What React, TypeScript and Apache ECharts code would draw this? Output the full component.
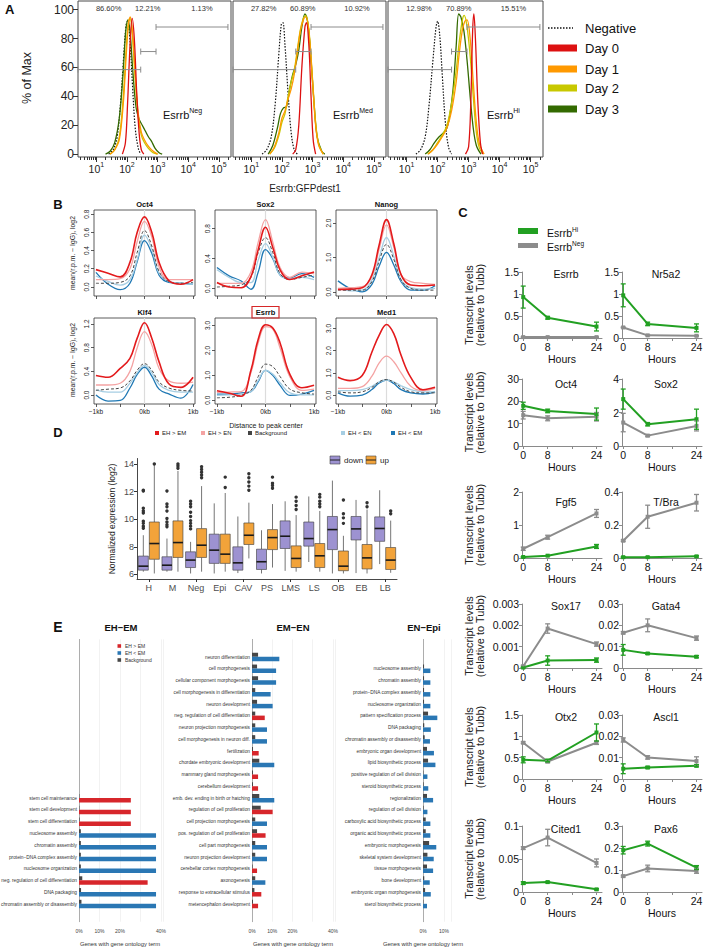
import React, { useEffect, useRef } from 'react';
import * as echarts from 'echarts';

const FF = '"Liberation Sans", Arial, Helvetica, sans-serif';

/* ================= Panel A : flow histograms (x = log10 intensity, y = % of max) ================= */
const A_GROUPS = ['Neg', 'Med', 'Hi'];
const A_PERCENTS = [
  ['86.60%', '12.21%', '1.13%'],
  ['27.82%', '60.89%', '10.92%'],
  ['12.98%', '70.89%', '15.51%'],
];
const A_PERCENT_AT = [1.4, 2.68, 4.45];
const A_GATES = [[0.4, 2.45, 58.5], [2.45, 2.95, 71], [2.95, 5.3, 88]];
const A_DECADES = [1, 2, 3, 4, 5];
const A_YTICKS = [0, 20, 40, 60, 80, 100];
const A_LEGEND = ['Negative', 'Day 0', 'Day 1', 'Day 2', 'Day 3'];
const A_NEGATIVE = [
  [[1.4, 0], [1.55, 3], [1.68, 12], [1.8, 38], [1.9, 70], [1.97, 89], [2.02, 92], [2.1, 78], [2.18, 48], [2.27, 18], [2.37, 4], [2.45, 0]],
  [[1.35, 0], [1.5, 3], [1.65, 12], [1.78, 35], [1.9, 70], [1.98, 90], [2.03, 91], [2.1, 75], [2.2, 42], [2.3, 15], [2.4, 3], [2.5, 0]],
  [[1.3, 0], [1.45, 3], [1.6, 12], [1.72, 33], [1.85, 65], [1.95, 88], [2.0, 92], [2.07, 82], [2.15, 55], [2.25, 22], [2.35, 5], [2.45, 0]],
];
const A_DAY0 = [
  [[1.85, 0], [1.95, 8], [2.02, 35], [2.1, 75], [2.17, 94], [2.24, 80], [2.32, 42], [2.4, 14], [2.47, 3], [2.55, 0]],
  [[2.35, 0], [2.45, 3], [2.55, 20], [2.65, 60], [2.75, 88], [2.8, 91], [2.88, 75], [2.95, 40], [3.02, 10], [3.1, 0]],
  [[2.9, 0], [3.0, 5], [3.07, 35], [3.13, 85], [3.17, 97], [3.22, 80], [3.3, 35], [3.38, 8], [3.45, 0]],
];
const A_DAY1 = [
  [[1.45, 0], [1.6, 3], [1.75, 10], [1.88, 35], [1.98, 70], [2.05, 90], [2.11, 95], [2.18, 85], [2.27, 55], [2.37, 28], [2.47, 15], [2.57, 10], [2.68, 6], [2.8, 3], [3.0, 0]],
  [[1.6, 0], [1.75, 5], [1.9, 15], [2.0, 25], [2.1, 30], [2.2, 38], [2.3, 45], [2.4, 55], [2.5, 70], [2.6, 85], [2.7, 93], [2.78, 95], [2.88, 85], [3.0, 50], [3.1, 20], [3.2, 6], [3.35, 0]],
  [[1.7, 0], [1.85, 3], [2.0, 7], [2.15, 12], [2.3, 18], [2.45, 30], [2.6, 50], [2.7, 70], [2.8, 86], [2.88, 92], [2.95, 93], [3.05, 80], [3.15, 50], [3.25, 22], [3.35, 7], [3.5, 0]],
];
const A_DAY2 = [
  [[1.45, 0], [1.6, 3], [1.75, 12], [1.88, 40], [1.98, 75], [2.05, 92], [2.1, 94], [2.17, 84], [2.27, 52], [2.37, 25], [2.47, 13], [2.57, 8], [2.7, 4], [2.85, 1], [3.0, 0]],
  [[1.6, 0], [1.75, 4], [1.9, 13], [2.0, 22], [2.1, 28], [2.2, 40], [2.3, 50], [2.4, 58], [2.5, 72], [2.6, 86], [2.7, 94], [2.78, 96], [2.88, 86], [3.0, 52], [3.1, 22], [3.2, 7], [3.35, 0]],
  [[1.68, 0], [1.85, 3], [2.0, 8], [2.15, 13], [2.3, 20], [2.45, 35], [2.6, 58], [2.7, 78], [2.8, 93], [2.86, 96], [2.95, 88], [3.05, 68], [3.15, 40], [3.25, 15], [3.35, 4], [3.48, 0]],
];
const A_DAY3 = [
  [[1.3, 0], [1.45, 2], [1.6, 8], [1.75, 25], [1.87, 55], [1.96, 85], [2.03, 93], [2.1, 85], [2.2, 55], [2.3, 32], [2.4, 24], [2.5, 20], [2.6, 16], [2.7, 12], [2.8, 9], [2.92, 4], [3.05, 1], [3.15, 0]],
  [[1.55, 0], [1.7, 6], [1.85, 18], [1.95, 28], [2.05, 32], [2.15, 33], [2.25, 45], [2.35, 55], [2.45, 62], [2.55, 72], [2.65, 88], [2.75, 97], [2.85, 90], [2.95, 65], [3.05, 35], [3.15, 12], [3.3, 2], [3.4, 0]],
  [[1.6, 0], [1.75, 3], [1.9, 8], [2.05, 12], [2.2, 15], [2.3, 18], [2.4, 28], [2.5, 45], [2.6, 75], [2.68, 97], [2.75, 95], [2.85, 85], [2.95, 65], [3.05, 40], [3.15, 18], [3.25, 6], [3.4, 0]],
];

/* ================= Panel B : ChIP profiles ================= */
const B_NAMES = ['Oct4', 'Sox2', 'Nanog', 'Klf4', 'Esrrb', 'Med1'];
const B_X = [-1000, -750, -500, -300, -150, 0, 150, 300, 500, 750, 1000];
const B_YMIN = [-0.1, -0.1, -0.12, -0.15, -0.15, -0.4];
const B_YMAX = [0.846, 1.05, 2.38, 1.3, 3.3, 3.47];
const B_YTICKS = [[0, 0.2, 0.4, 0.6, 0.8], [0, 0.4, 0.8], [0, 1, 2], [0, 0.4, 0.8, 1.2], [0, 1, 2, 3], [0, 1, 2, 3]];
const B_LEGEND = ['EH > EM', 'EH > EN', 'Background', 'EH < EN', 'EH < EM'];
const B_EH_GT_EM = [
  [0.19, 0.15, 0.11, 0.27, 0.6, 0.77, 0.6, 0.27, 0.07, 0.03, 0.08],
  [0.08, 0.02, 0.01, 0.16, 0.52, 0.82, 0.55, 0.25, 0.12, 0.17, 0.22],
  [0.07, 0.08, 0.12, 0.5, 1.37, 2.1, 1.4, 0.5, 0.2, 0.18, 0.2],
  [0.33, 0.3, 0.45, 0.62, 0.96, 1.22, 0.96, 0.56, 0.19, 0.13, 0.3],
  [0.38, 0.28, 0.16, 1.2, 2.45, 3.03, 2.9, 2.3, 1.05, 0.5, 0.6],
  [0.8, 0.65, 0.88, 1.94, 2.7, 3.18, 2.77, 1.79, 0.8, 0.24, 0.35],
];
const B_EH_GT_EN = [
  [0.08, 0.08, 0.09, 0.2, 0.5, 0.72, 0.55, 0.22, 0.08, 0.08, 0.08],
  [0.07, 0.07, 0.07, 0.22, 0.62, 0.92, 0.62, 0.28, 0.15, 0.22, 0.2],
  [0.1, 0.12, 0.15, 0.45, 1.25, 1.95, 1.3, 0.5, 0.3, 0.25, 0.22],
  [0.17, 0.17, 0.2, 0.4, 0.8, 1.07, 0.85, 0.45, 0.24, 0.2, 0.22],
  [0.32, 0.33, 0.35, 1.1, 2.3, 2.95, 2.85, 2.1, 0.95, 0.4, 0.45],
  [0.3, 0.3, 0.38, 0.85, 1.45, 1.75, 1.5, 1.0, 0.4, 0.2, 0.3],
];
const B_BACKGROUND = [
  [0.04, 0.04, 0.05, 0.12, 0.38, 0.62, 0.45, 0.17, 0.06, 0.04, 0.05],
  [0.02, 0.03, 0.05, 0.15, 0.48, 0.68, 0.48, 0.2, 0.12, 0.15, 0.18],
  [0.05, 0.05, 0.05, 0.3, 0.9, 1.38, 0.95, 0.35, 0.1, 0.05, 0.05],
  [0.08, 0.1, 0.12, 0.24, 0.42, 0.53, 0.42, 0.22, 0.12, 0.08, 0.07],
  [0.1, 0.12, 0.2, 0.4, 0.95, 1.45, 1.35, 0.95, 0.45, 0.3, 0.25],
  [0.15, 0.1, 0.15, 0.35, 0.6, 0.7, 0.58, 0.35, 0.15, 0.1, 0.1],
];
const B_EH_LT_EN = [
  [0.12, 0.06, 0.02, 0.08, 0.3, 0.57, 0.42, 0.15, 0.06, 0.04, 0.03],
  [0.25, 0.15, 0.08, 0.08, 0.38, 0.6, 0.42, 0.18, 0.13, 0.15, 0.12],
  [0.1, 0.03, 0.05, 0.35, 1.0, 1.58, 1.05, 0.35, 0.12, 0.08, 0.1],
  [0.09, 0.05, 0.05, 0.2, 0.38, 0.5, 0.38, 0.18, 0.08, 0.05, 0.05],
  [0.2, 0.22, 0.25, 0.35, 0.8, 1.2, 1.05, 0.7, 0.3, 0.22, 0.22],
  [0.2, 0.2, 0.25, 0.4, 0.6, 0.68, 0.6, 0.42, 0.25, 0.15, 0.15],
];
const B_EH_LT_EM = [
  [0.16, 0.03, -0.03, 0.04, 0.28, 0.51, 0.37, 0.13, 0.05, 0.04, 0.03],
  [0.28, 0.17, 0.1, -0.01, 0.22, 0.52, 0.4, 0.18, 0.14, 0.2, 0.15],
  [0.32, 0.1, 0.0, 0.22, 0.75, 1.15, 0.78, 0.3, 0.05, 0.05, 0.18],
  [0.0, -0.1, -0.09, 0.12, 0.35, 0.47, 0.32, 0.1, 0.02, -0.05, 0.18],
  [0.25, 0.25, 0.3, 0.35, 0.75, 1.2, 1.0, 0.6, 0.2, 0.25, 0.4],
  [0.1, -0.05, 0.0, 0.25, 0.55, 0.68, 0.52, 0.25, 0.1, 0.05, 0.15],
];

/* ================= Panel C : qPCR time courses ================= */
const C_GENES = ['Esrrb', 'Nr5a2', 'Oct4', 'Sox2', 'Fgf5', 'T/Bra', 'Sox17', 'Gata4', 'Otx2', 'Ascl1', 'Cited1', 'Pax6'];
const C_HOURS = [0, 8, 24];
const C_XLABELS = [0, 8, 24];
const C_XTICKS = [0, 8, 16, 24];
const C_YMAX = [1.5, 1.5, 30, 4, 2, 0.4, 0.003, 0.03, 1.5, 0.03, 0.1, 0.3];
const C_YSTEP = [0.5, 0.5, 10, 2, 1, 0.2, 0.001, 0.01, 0.5, 0.01, 0.05, 0.1];
const C_HI_MEAN = [
  [0.93, 0.46, 0.26], [0.97, 0.32, 0.23], [18, 15.7, 14.3], [2.8, 1.3, 1.6],
  [0.03, 0.07, 0.35], [0.005, 0.005, 0.01], [0.00002, 0.00035, 0.00037], [0.0085, 0.0068, 0.0053],
  [0.45, 0.43, 1.09], [0.0048, 0.0054, 0.0062], [0.0135, 0.015, 0.004], [0.19, 0.22, 0.111],
];
const C_HI_ERR = [
  [0.25, 0.03, 0.1], [0.26, 0.04, 0.09], [1.6, 0.8, 2.7], [0.6, 0.1, 0.6],
  [0.01, 0.01, 0.06], [0.003, 0.002, 0.004], [0.00002, 0.00022, 0.0001], [0.0025, 0.0004, 0.0005],
  [0.07, 0.03, 0.2], [0.0023, 0.0005, 0.0005], [0.002, 0.001, 0.001], [0.017, 0.011, 0.009],
];
const C_NEG_MEAN = [
  [0.02, 0.02, 0.02], [0.24, 0.06, 0.05], [13.8, 12.4, 13.1], [1.4, 0.62, 1.2],
  [0.28, 0.63, 1.35], [0.105, 0.25, 0.335], [0.00008, 0.00185, 0.00112], [0.0165, 0.02, 0.014],
  [0.85, 0.41, 0.85], [0.0183, 0.0101, 0.0084], [0.0665, 0.0825, 0.044], [0.072, 0.107, 0.096],
];
const C_NEG_ERR = [
  [0.01, 0.005, 0.005], [0.01, 0.01, 0.01], [1.7, 1.1, 1.9], [0.55, 0.06, 0.3],
  [0.05, 0.06, 0.12], [0.005, 0.07, 0.05], [0.00005, 0.00022, 0.0001], [0.0005, 0.003, 0.001],
  [0.02, 0.03, 0.04], [0.001, 0.0008, 0.002], [0.002, 0.0125, 0.006], [0.004, 0.015, 0.011],
];

/* ================= Panel D : boxplots [low, q1, median, q3, high] ================= */
const D_CATS = ['H', 'M', 'Neg', 'Epi', 'CAV', 'PS', 'LMS', 'LS', 'OB', 'EB', 'LB'];
const D_DOWN = [
  [6.2, 6.31, 6.6, 7.33, 8.84], [6.2, 6.31, 6.67, 7.28, 8.6], [6.07, 6.5, 7.04, 7.64, 8.36],
  [6.07, 6.8, 7.76, 8.92, 11.15], [6.1, 6.31, 6.84, 8.0, 10.2], [6.07, 6.36, 6.92, 7.83, 9.2],
  [6.26, 7.88, 8.77, 9.88, 11.3], [6.9, 8.05, 8.6, 9.8, 11.65], [6.07, 7.8, 9.25, 10.2, 12.8],
  [6.1, 8.5, 9.3, 10.2, 11.4], [6.75, 8.4, 9.33, 10.17, 12.1],
];
const D_UP = [
  [6.07, 7.1, 8.24, 9.8, 13.9], [6.2, 7.23, 8.31, 9.88, 13.5], [6.2, 7.23, 8.12, 9.32, 12.4],
  [6.2, 6.8, 7.47, 8.92, 11.9], [7.16, 8.17, 8.84, 9.73, 11.2], [6.5, 7.8, 8.67, 9.25, 11.1],
  [6.2, 6.5, 7.16, 8.07, 10.3], [6.2, 6.5, 7.35, 8.24, 10.6], [6.07, 6.27, 6.6, 7.7, 8.8],
  [6.07, 6.4, 7.2, 8.17, 10.7], [6.12, 6.36, 7.04, 7.95, 9.9],
];
const D_DOWN_OUT = [
  [12.1, 12.05, 10.8, 10.6, 10.45, 9.85, 9.7, 9.5, 9.35],
  [12.05, 11.1, 10.9, 10.6, 10.05, 9.8, 9.6, 9.45],
  [11.3, 11.1, 10.9, 10.5, 10.2, 9.9, 9.7, 9.5, 9.3],
  [], [], [], [], [], [], [], [],
];
const D_UP_OUT = [
  [14.0], [14.0, 13.85, 13.7], [13.0, 13.2, 13.4, 13.6, 13.8], [12.3, 13.05], [12.1, 12.4, 12.7, 13.0, 13.3],
  [12.25, 12.45, 12.6, 13.05], [10.7, 11.0, 11.3, 11.6], [10.9, 11.1, 11.3, 11.6, 11.8], [9.7, 10.1, 10.4, 11.4],
  [10.9, 11.2], [10.4, 10.6],
];
const D_YTICKS = [6, 8, 10, 12, 14];

/* ================= Panel E : GO term bars (% of genes) ================= */
const E_TITLES = ['EH−EM', 'EM−EN', 'EN−Epi'];
const E1_TERMS = ['stem cell maintenance', 'stem cell development', 'stem cell differentiation', 'nucleosome assembly', 'chromatin assembly', 'protein−DNA complex assembly', 'nucleosome organization', 'neg. regulation of cell differentiation', 'DNA packaging', 'chromatin assembly or disassembly'];
const E1_PCT = [25.3, 25.3, 25.3, 37.6, 37.6, 37.6, 37.6, 33.5, 37.6, 37.6];
const E1_BG = [0.2, 0.2, 0.3, 0.9, 0.9, 0.9, 0.9, 1.6, 1.0, 1.2];
const E1_UP = [1, 1, 1, 0, 0, 0, 0, 1, 0, 0];
const E2_TERMS = ['neuron differentiation', 'cell morphogenesis', 'cellular component morphogenesis', 'cell morphogenesis in differentiation', 'neuron development', 'neg. regulation of cell differentiation', 'neuron projection morphogenesis', 'cell morphogenesis in neuron diff.', 'fertilization', 'chordate embryonic development', 'mammary gland morphogenesis', 'cerebellum development', 'emb. dev. ending in birth or hatching', 'regulation of cell proliferation', 'cell projection morphogenesis', 'pos. regulation of cell proliferation', 'cell part morphogenesis', 'neuron projection development', 'cerebellar cortex morphogenesis', 'axonogenesis', 'response to extracellular stimulus', 'metencephalon development'];
const E2_PCT = [13.5, 11.9, 11.9, 9.2, 10.2, 6.3, 7.4, 7.4, 3.3, 11.0, 3.0, 3.0, 11.0, 10.2, 7.4, 6.7, 7.4, 7.4, 2.5, 6.6, 4.6, 3.0];
const E2_BG = [3.0, 2.5, 3.0, 1.6, 2.5, 1.6, 1.6, 1.6, 0.5, 3.6, 0.5, 0.5, 3.6, 4.3, 1.6, 2.5, 1.6, 1.6, 0.3, 1.6, 1.2, 0.5];
const E2_UP = [0, 0, 0, 0, 0, 1, 0, 0, 1, 0, 1, 1, 0, 1, 0, 1, 0, 0, 1, 0, 1, 1];
const E3_TERMS = ['nucleosome assembly', 'chromatin assembly', 'protein−DNA complex assembly', 'nucleosome organization', 'pattern specification process', 'DNA packaging', 'chromatin assembly or disassembly', 'embryonic organ development', 'lipid biosynthetic process', 'positive regulation of cell division', 'steroid biosynthetic process', 'regionalization', 'regulation of cell division', 'carboxylic acid biosynthetic process', 'organic acid biosynthetic process', 'embryonic morphogenesis', 'skeletal system development', 'tissue morphogenesis', 'bone development', 'embryonic organ morphogenesis', 'sterol biosynthetic process'];
const E3_PCT = [3.5, 3.5, 3.5, 3.5, 6.8, 3.7, 3.3, 5.2, 5.9, 2.1, 2.5, 4.8, 2.1, 3.5, 3.5, 6.3, 5.1, 4.8, 3.2, 3.7, 1.9];
const E3_BG = [0.5, 0.5, 0.5, 0.5, 2.4, 0.6, 0.8, 1.9, 2.4, 0.2, 0.3, 1.9, 0.3, 1.3, 1.3, 2.9, 2.1, 1.9, 0.6, 1.0, 0.2];
const E3_UP = E3_TERMS.map(() => 0);
const E_LEGEND = ['EH > EM', 'EH < EM', 'Background'];

function buildOption(): any {
  const grid: any[] = [];
  const xAxis: any[] = [];
  const yAxis: any[] = [];
  const series: any[] = [];
  const graphic: any[] = [];

  const txt = (x: number, y: number, text: string, o: any = {}) => {
    const style: any = {
      text, fontSize: o.fs || 10, fontFamily: FF, fontWeight: o.fw || 'normal', fill: o.c || '#111',
      align: o.al || 'center', textAlign: o.al || 'center', verticalAlign: 'middle', textVerticalAlign: 'middle',
    };
    if (o.rich) style.rich = o.rich;
    graphic.push({ type: 'text', x, y, rotation: o.rot || 0, z: 50, silent: true, style });
  };
  const rect = (x: number, y: number, w: number, h: number, fill: string, stroke?: string, lw = 1) =>
    graphic.push({ type: 'rect', z: 50, silent: true, shape: { x, y, width: w, height: h }, style: { fill, stroke: stroke || null, lineWidth: stroke ? lw : 0 } });
  const seg = (x1: number, y1: number, x2: number, y2: number, stroke: string, lw = 1, dash?: number[]) =>
    graphic.push({ type: 'line', z: 50, silent: true, shape: { x1, y1, x2, y2 }, style: { stroke, lineWidth: lw, lineDash: dash || null } });
  const sup = (a: number, b: number) => ({
    m: { fontSize: a, fontFamily: FF, fill: '#111', color: '#111', lineHeight: a + 2.5, verticalAlign: 'bottom' },
    s: { fontSize: b, fontFamily: FF, fill: '#111', color: '#111', lineHeight: b, verticalAlign: 'top' },
  });

  /* ---------------- A ---------------- */
  const AL = [78, 233, 388], AW = [153, 153, 155];
  const AXMIN = 0.4, AXMAX = 5.4;
  const minorTicks: number[] = [];
  for (let d = 0; d <= 5; d++) for (let k = 2; k <= 9; k++) { const v = d + Math.log10(k); if (v > AXMIN && v < AXMAX) minorTicks.push(v); }
  const aColors = ['#111111', '#dd1111', '#ff9900', '#c8c800', '#336a00'];
  const aSets = [A_NEGATIVE, A_DAY0, A_DAY1, A_DAY2, A_DAY3];
  const drawOrder = [0, 4, 3, 2, 1];
  for (let p = 0; p < 3; p++) {
    const gi = grid.length;
    grid.push({ left: AL[p], top: 1, width: AW[p], height: 156, show: true, borderColor: '#4a4a4a', borderWidth: 1, outerBoundsMode: 'none' });
    const xi = xAxis.length;
    xAxis.push({
      type: 'value', gridIndex: gi, position: 'bottom', min: AXMIN, max: AXMAX,
      axisLine: { show: false, onZero: false }, splitLine: { show: false },
      axisTick: { show: true, customValues: A_DECADES, length: 5, lineStyle: { color: '#333', width: 1 } },
      axisLabel: {
        show: true, customValues: A_DECADES, margin: 4,
        formatter: (v: number) => `{b|10}{s|${v}}`,
        rich: {
          b: { fontSize: 10.5, fontFamily: FF, color: '#222', verticalAlign: 'bottom', lineHeight: 13 },
          s: { fontSize: 7, fontFamily: FF, color: '#222', verticalAlign: 'top', lineHeight: 7 },
        },
      },
    });
    xAxis.push({
      type: 'value', gridIndex: gi, position: 'bottom', min: AXMIN, max: AXMAX,
      axisLine: { show: false, onZero: false }, splitLine: { show: false }, axisLabel: { show: false },
      axisTick: { show: true, customValues: minorTicks, length: 3, lineStyle: { color: '#333', width: 1 } },
    });
    const yi = yAxis.length;
    yAxis.push({
      type: 'value', gridIndex: gi, position: 'left', min: -2, max: 106,
      axisLine: { show: false, onZero: false }, splitLine: { show: false },
      axisTick: { show: p === 0, customValues: A_YTICKS, length: 5, lineStyle: { color: '#333' } },
      axisLabel: { show: p === 0, customValues: A_YTICKS, fontSize: 12, color: '#222', margin: 4, fontFamily: FF },
    });
    for (const s of drawOrder) {
      series.push({
        type: 'line', name: A_LEGEND[s], xAxisIndex: xi, yAxisIndex: yi, data: aSets[s][p], smooth: 0.35,
        symbol: 'none', silent: true, z: 3,
        lineStyle: { color: aColors[s], width: s === 0 ? 1.2 : 1.3, type: s === 0 ? [1.5, 1.5] : 'solid' },
      });
    }
    series.push({
      type: 'custom', xAxisIndex: xi, yAxisIndex: yi, data: A_GATES, silent: true, z: 4,
      renderItem: (params: any, api: any) => {
        const a = api.coord([api.value(0), api.value(2)]);
        const b = api.coord([api.value(1), api.value(2)]);
        const st = { stroke: '#8c8c8c', lineWidth: 1 };
        return {
          type: 'group', children: [
            { type: 'line', shape: { x1: a[0], y1: a[1], x2: b[0], y2: b[1] }, style: st },
            { type: 'line', shape: { x1: a[0], y1: a[1] - 3, x2: a[0], y2: a[1] + 3 }, style: st },
            { type: 'line', shape: { x1: b[0], y1: b[1] - 3, x2: b[0], y2: b[1] + 3 }, style: st },
          ],
        };
      },
    });
    for (let j = 0; j < 3; j++) {
      const x = AL[p] + (A_PERCENT_AT[j] - AXMIN) / (AXMAX - AXMIN) * AW[p];
      txt(x, 8, A_PERCENTS[p][j], { fs: 7.5, c: '#333' });
    }
    txt(AL[p] + [85, 100, 99][p], 114, `{m|Esrrb}{s|${A_GROUPS[p]}}`, { al: 'left', rich: sup(11, 7) });
  }
  txt(5, 9, 'A', { fs: 13, fw: 'bold', al: 'left' });
  txt(27, 78, '% of Max', { fs: 12.5, c: '#222', rot: Math.PI / 2 });
  txt(305, 188, 'Esrrb:GFPdest1', { fs: 10, c: '#222' });
  seg(548, 28, 573, 28, '#111', 1.5, [1.5, 1.5]);
  txt(585, 28, A_LEGEND[0], { fs: 13, al: 'left' });
  const aLegY = [48, 69, 88, 109];
  for (let k = 1; k <= 4; k++) {
    rect(548, aLegY[k - 1] - 3.5, 29, 7, aColors[k]);
    txt(585, aLegY[k - 1], A_LEGEND[k], { fs: 13, al: 'left' });
  }

  /* ---------------- B ---------------- */
  const BL = [94, 215, 336], BT = [210, 318];
  const bColors = ['#1f78b4', '#a6cee3', '#444444', '#f4a3a3', '#e31a1c'];
  const bSets = [B_EH_LT_EM, B_EH_LT_EN, B_BACKGROUND, B_EH_GT_EN, B_EH_GT_EM];
  for (let i = 0; i < 6; i++) {
    const r = Math.floor(i / 3), c = i % 3;
    const gi = grid.length;
    grid.push({ left: BL[c], top: BT[r], width: 101, height: 86, show: true, borderColor: '#333', borderWidth: 0.8, outerBoundsMode: 'none' });
    const xi = xAxis.length;
    xAxis.push({
      type: 'value', gridIndex: gi, min: -1040, max: 1040, axisLine: { show: false, onZero: false }, splitLine: { show: false },
      axisTick: { show: true, customValues: [-1000, -500, 0, 500, 1000], length: 3, lineStyle: { color: '#333', width: 0.8 } },
      axisLabel: {
        show: r === 1, customValues: [-1000, 0, 1000], fontSize: 6.5, margin: 4, color: '#222', fontFamily: FF,
        formatter: (v: number) => (v === 0 ? '0kb' : v < 0 ? '−1kb' : '1kb'),
      },
    });
    const yi = yAxis.length;
    yAxis.push({
      type: 'value', gridIndex: gi, min: B_YMIN[i], max: B_YMAX[i], axisLine: { show: false, onZero: false }, splitLine: { show: false },
      axisTick: { show: true, customValues: B_YTICKS[i], length: 3, lineStyle: { color: '#333', width: 0.8 } },
      axisLabel: { customValues: B_YTICKS[i], rotate: 90, fontSize: 6.5, margin: 4, color: '#222', fontFamily: FF, formatter: (v: number) => v.toFixed(1) },
    });
    series.push({
      type: 'line', xAxisIndex: xi, yAxisIndex: yi, data: [[0, B_YMIN[i]], [0, B_YMAX[i]]], symbol: 'none', silent: true, z: 1,
      lineStyle: { color: '#dcdcdc', width: 1.2 },
    });
    for (let s = 0; s < 5; s++) {
      series.push({
        type: 'line', name: B_LEGEND[4 - s], xAxisIndex: xi, yAxisIndex: yi, data: B_X.map((x, k) => [x, bSets[s][i][k]]),
        smooth: 0.4, symbol: 'none', silent: true, z: 3,
        lineStyle: { color: bColors[s], width: s === 4 ? 1.6 : s === 2 ? 1 : 1.3, type: s === 2 ? [3, 2] : 'solid' },
      });
    }
    txt(BL[c] + 50.5, BT[r] - 5.5, B_NAMES[i], { fs: 7.5, fw: 'bold' });
  }
  rect(252, 306.5, 27, 11.5, 'none', '#d62728', 1.2);
  txt(58, 204, 'B', { fs: 13, fw: 'bold' });
  txt(72, 253, 'mean(r.p.m. − IgG), log2', { fs: 6.8, rot: Math.PI / 2, c: '#222' });
  txt(72, 360, 'mean(r.p.m. − IgG), log2', { fs: 6.8, rot: Math.PI / 2, c: '#222' });
  txt(266, 425, 'Distance to peak center', { fs: 7, c: '#222' });
  const bLegX = [157, 203, 250, 343, 393];
  const bLegC = ['#e31a1c', '#f4a3a3', '#444444', '#a6cee3', '#1f78b4'];
  for (let k = 0; k < 5; k++) {
    rect(bLegX[k] - 2, 433 - 2, 4, 4, bLegC[k]);
    txt(bLegX[k] + 5, 433, B_LEGEND[k], { fs: 6, al: 'left', c: '#222' });
  }

  /* ---------------- C ---------------- */
  const CL = [522, 622];
  const CTOP = [272, 379, 492, 604, 715, 826];
  const CZERO = [338, 446, 558, 668, 779, 892];
  const CTITLEY = [274, 384, 502, 606, 717, 829];
  const GREEN = '#22a022', GRAY = '#8c8c8c';
  const errRender = (color: string) => (params: any, api: any) => {
    const lo = api.coord([api.value(0), api.value(1)]);
    const hi = api.coord([api.value(0), api.value(2)]);
    const w = 2.5;
    const st = { stroke: color, lineWidth: 1.3 };
    return {
      type: 'group', children: [
        { type: 'line', shape: { x1: lo[0], y1: lo[1], x2: hi[0], y2: hi[1] }, style: st },
        { type: 'line', shape: { x1: lo[0] - w, y1: lo[1], x2: lo[0] + w, y2: lo[1] }, style: st },
        { type: 'line', shape: { x1: hi[0] - w, y1: hi[1], x2: hi[0] + w, y2: hi[1] }, style: st },
      ],
    };
  };
  for (let i = 0; i < C_GENES.length; i++) {
    const r = Math.floor(i / 2), c = i % 2;
    const gi = grid.length;
    grid.push({ left: CL[c], top: CTOP[r], width: 80, height: CZERO[r] - CTOP[r], outerBoundsMode: 'none' });
    const xi = xAxis.length;
    xAxis.push({
      type: 'value', gridIndex: gi, min: -0.4, max: 25.8,
      axisLine: { show: true, onZero: false, lineStyle: { color: '#8a8a8a', width: 1 } }, splitLine: { show: false },
      axisTick: { show: true, customValues: C_XTICKS, length: 3, lineStyle: { color: '#8a8a8a' } },
      axisLabel: { customValues: C_XLABELS, fontSize: 10.5, color: '#111', margin: 3, fontFamily: FF },
      name: 'Hours', nameLocation: 'middle', nameGap: 15, nameTextStyle: { fontSize: 10.5, color: '#111', fontFamily: FF },
    });
    const yi = yAxis.length;
    yAxis.push({
      type: 'value', gridIndex: gi, min: 0, max: C_YMAX[i], interval: C_YSTEP[i],
      axisLine: { show: true, onZero: false, lineStyle: { color: '#8a8a8a', width: 1 } }, splitLine: { show: false },
      axisTick: { show: true, length: 3, lineStyle: { color: '#8a8a8a' } },
      axisLabel: { fontSize: 10.5, color: '#111', margin: 3, fontFamily: FF },
    });
    const groups: any[] = [[C_NEG_MEAN[i], C_NEG_ERR[i], GRAY, 'EsrrbNeg'], [C_HI_MEAN[i], C_HI_ERR[i], GREEN, 'EsrrbHi']];
    for (const [mean, err, color, nm] of groups) {
      series.push({
        type: 'line', name: nm, xAxisIndex: xi, yAxisIndex: yi, data: C_HOURS.map((h, k) => [h, mean[k]]),
        symbol: 'rect', symbolSize: 4, showSymbol: true, silent: true, z: 3,
        lineStyle: { color, width: 2 }, itemStyle: { color },
      });
      series.push({
        type: 'custom', xAxisIndex: xi, yAxisIndex: yi, silent: true, z: 4,
        data: C_HOURS.map((h, k) => [h, mean[k] - err[k], mean[k] + err[k]]),
        renderItem: errRender(color),
      });
    }
    txt(CL[c] + 44, CTITLEY[r], C_GENES[i], { fs: 10.5 });
    if (c === 0) txt(474.5, (CTOP[r] + CZERO[r]) / 2, 'Transcript levels\n(relative to Tubb)', { fs: 11, rot: Math.PI / 2, c: '#222' });
  }
  txt(463, 212, 'C', { fs: 13, fw: 'bold' });
  rect(518, 228, 20, 6, GREEN);
  txt(547, 232, '{m|Esrrb}{s|Hi}', { al: 'left', rich: sup(10.5, 6.5) });
  rect(518, 243, 20, 5, GRAY);
  txt(547, 246, '{m|Esrrb}{s|Neg}', { al: 'left', rich: sup(10.5, 6.5) });

  /* ---------------- D ---------------- */
  const DLEFT = 137, DWIDTH = 260;
  const dgi = grid.length;
  grid.push({ left: DLEFT, top: 458.5, width: DWIDTH, height: 120.5, outerBoundsMode: 'none' });
  const dxi = xAxis.length;
  xAxis.push({
    type: 'category', gridIndex: dgi, data: D_CATS,
    axisLine: { show: true, onZero: false, lineStyle: { color: '#333', width: 0.9 } },
    axisTick: { show: true, alignWithLabel: true, length: 3, lineStyle: { color: '#333' } },
    axisLabel: { show: false },
  });
  D_CATS.forEach((name, i) => txt(DLEFT + (i + 0.5) * DWIDTH / D_CATS.length, 588, name, { fs: 9, c: '#4d4d4d' }));
  const dyi = yAxis.length;
  yAxis.push({
    type: 'value', gridIndex: dgi, min: 5.67, max: 14.4, splitLine: { show: false },
    axisLine: { show: true, onZero: false, lineStyle: { color: '#333', width: 0.9 } },
    axisTick: { show: true, customValues: D_YTICKS, length: 3, lineStyle: { color: '#333' } },
    axisLabel: { customValues: D_YTICKS, fontSize: 9, color: '#4d4d4d', margin: 3, fontFamily: FF },
  });
  const boxRender = (off: number, fill: string) => (params: any, api: any) => {
    const ci = api.value(0);
    const x = api.coord([ci, 8])[0] + off;
    const py = (v: number) => api.coord([ci, v])[1];
    const lo = py(api.value(1)), q1 = py(api.value(2)), md = py(api.value(3)), q3 = py(api.value(4)), hi = py(api.value(5));
    const hw = 5;
    return {
      type: 'group', children: [
        { type: 'line', shape: { x1: x, y1: hi, x2: x, y2: q3 }, style: { stroke: '#666', lineWidth: 0.9 } },
        { type: 'line', shape: { x1: x, y1: q1, x2: x, y2: lo }, style: { stroke: '#666', lineWidth: 0.9 } },
        { type: 'rect', shape: { x: x - hw, y: q3, width: 2 * hw, height: q1 - q3 }, style: { fill, stroke: '#3a3a3a', lineWidth: 0.6 } },
        { type: 'line', shape: { x1: x - hw, y1: md, x2: x + hw, y2: md }, style: { stroke: '#1a1a1a', lineWidth: 1.6 } },
      ],
    };
  };
  const outRender = (off: number) => (params: any, api: any) => {
    const p = api.coord([api.value(0), api.value(1)]);
    return { type: 'circle', shape: { cx: p[0] + off, cy: p[1], r: 1.7 }, style: { fill: '#333' } };
  };
  const PURPLE = '#9d92d1', ORANGE = '#f2a33a';
  series.push({ type: 'custom', name: 'down', xAxisIndex: dxi, yAxisIndex: dyi, silent: true, encode: { x: 0, y: [1, 2, 3, 4, 5] }, data: D_DOWN.map((r, i) => [i, ...r]), renderItem: boxRender(-5.5, PURPLE) });
  series.push({ type: 'custom', name: 'up', xAxisIndex: dxi, yAxisIndex: dyi, silent: true, encode: { x: 0, y: [1, 2, 3, 4, 5] }, data: D_UP.map((r, i) => [i, ...r]), renderItem: boxRender(5.5, ORANGE) });
  series.push({ type: 'custom', xAxisIndex: dxi, yAxisIndex: dyi, silent: true, encode: { x: 0, y: 1 }, data: D_DOWN_OUT.flatMap((a, i) => a.map((v) => [i, v])), renderItem: outRender(-5.5) });
  series.push({ type: 'custom', xAxisIndex: dxi, yAxisIndex: dyi, silent: true, encode: { x: 0, y: 1 }, data: D_UP_OUT.flatMap((a, i) => a.map((v) => [i, v])), renderItem: outRender(5.5) });
  txt(58, 432, 'D', { fs: 13, fw: 'bold' });
  txt(112, 519, 'Normalized expression (log2)', { fs: 8.5, rot: Math.PI / 2, c: '#222' });
  rect(330, 456, 10, 8, PURPLE, '#444', 0.6);
  seg(330, 460, 340, 460, '#222', 1);
  txt(344, 460, 'down', { fs: 8, al: 'left', c: '#222' });
  rect(366, 456, 10, 8, ORANGE, '#444', 0.6);
  seg(366, 460, 376, 460, '#222', 1);
  txt(380, 460, 'up', { fs: 8, al: 'left', c: '#222' });

  /* ---------------- E ---------------- */
  const ERED = '#d7262b', EBLUE = '#2a77b4', EGRAY = '#474747';
  const eBlock = (left: number, width: number, xmax: number, labels: number[], terms: string[], pct: number[], bg: number[], up: number[], padTop: number) => {
    const cats: string[] = [' '];
    for (let k = 0; k < padTop; k++) cats.push(' '.repeat(k + 2));
    for (const t of terms) cats.push(t);
    cats.push(' '.repeat(padTop + 3));
    const idx = (k: number) => k - 1 - padTop;
    const bgData = cats.map((_, k) => { const t = idx(k); return t >= 0 && t < terms.length ? bg[t] : '-'; });
    const valData = cats.map((_, k) => {
      const t = idx(k);
      return t >= 0 && t < terms.length ? { value: pct[t], itemStyle: { color: up[t] ? ERED : EBLUE } } : '-';
    });
    const gi = grid.length;
    grid.push({ left, top: 639.4, width, height: 282.3, outerBoundsMode: 'none' });
    const xi = xAxis.length;
    xAxis.push({
      type: 'value', gridIndex: gi, min: 0, max: xmax, interval: 10,
      axisLine: { show: false, onZero: false }, axisTick: { show: false },
      splitLine: { show: true, lineStyle: { color: '#ececec', width: 0.7 } },
      axisLabel: { customValues: labels, formatter: (v: number) => v + '%', fontSize: 5, color: '#444', margin: 7, fontFamily: FF },
    });
    const yi = yAxis.length;
    yAxis.push({
      type: 'category', gridIndex: gi, data: cats, inverse: true,
      axisLine: { show: true, onZero: false, lineStyle: { color: '#9a9a9a', width: 0.8 } }, axisTick: { show: false },
      axisLabel: { interval: 0, fontSize: 4.8, color: '#333', margin: 2, fontFamily: FF },
    });
    series.push({ type: 'bar', name: 'Background', xAxisIndex: xi, yAxisIndex: yi, data: bgData, barWidth: 4, barGap: '0%', silent: true, itemStyle: { color: EGRAY } });
    series.push({ type: 'bar', xAxisIndex: xi, yAxisIndex: yi, data: valData, barWidth: 4.5, barGap: '0%', silent: true });
  };
  eBlock(79, 84, 41, [0, 10, 20, 40], E1_TERMS, E1_PCT, E1_BG, E1_UP, 12);
  eBlock(252, 83, 41, [0, 10, 20, 40], E2_TERMS, E2_PCT, E2_BG, E2_UP, 0);
  eBlock(423, 28, 13.3, [0, 10], E3_TERMS, E3_PCT, E3_BG, E3_UP, 1);
  txt(58, 627, 'E', { fs: 14, fw: 'bold' });
  const eTitleX = [121, 293, 424];
  for (let k = 0; k < 3; k++) {
    txt(eTitleX[k], 627, E_TITLES[k], { fs: 9.5, fw: 'bold' });
    txt([120, 293, 423][k], 944, 'Genes with gene ontology term', { fs: 5.8, c: '#333' });
  }
  const eLegC = [ERED, EBLUE, EGRAY];
  for (let k = 0; k < 3; k++) {
    rect(117.5, 646 + 7 * k - 1.8, 3.6, 3.6, eLegC[k]);
    txt(125, 646 + 7 * k, E_LEGEND[k], { fs: 5, al: 'left', c: '#333' });
  }

  return {
    animation: false,
    backgroundColor: '#ffffff',
    textStyle: { fontFamily: FF },
    grid, xAxis, yAxis, series, graphic,
  };
}

export default function App() {
  const ref = useRef<HTMLDivElement>(null);
  useEffect(() => {
    document.body.style.margin = '0';
    const chart = echarts.init(ref.current as HTMLDivElement, null, { renderer: 'svg', width: 709, height: 948 });
    chart.setOption(buildOption());
    return () => chart.dispose();
  }, []);
  return <div ref={ref} style={{ width: 709, height: 948, position: 'absolute', left: 0, top: 0, background: '#fff' }} />;
}
